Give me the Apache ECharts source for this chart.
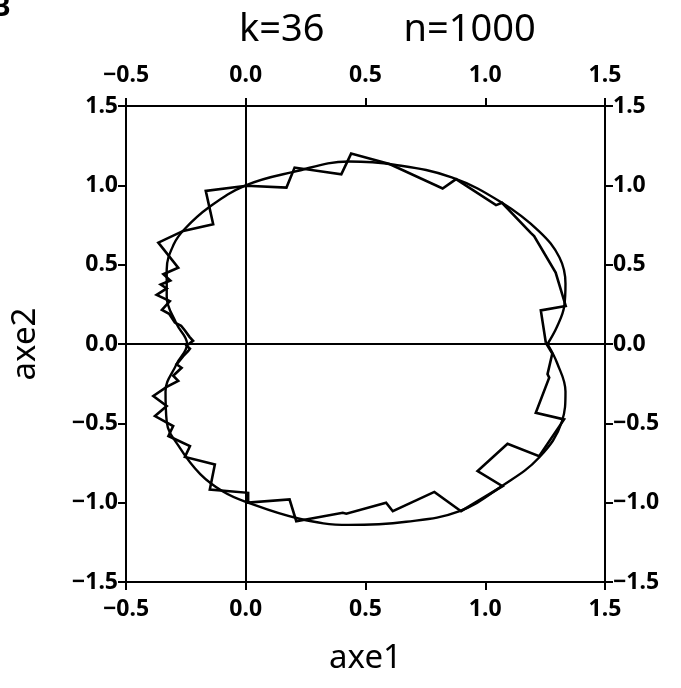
<!DOCTYPE html>
<html>
<head>
<meta charset="utf-8">
<script src="https://cdn.jsdelivr.net/npm/echarts@6/dist/echarts.min.js"></script>
<style>
html,body{margin:0;padding:0;background:#fff;}
#chart{width:681px;height:688px;}
</style>
</head>
<body>
<div id="chart"></div>
<script>
// ---- data ----
const titleText = 'k=36        n=1000';
const xName = 'axe1';
const yName = 'axe2';
const xTicks = [-0.5, 0.0, 0.5, 1.0, 1.5];
const yTicks = [-1.5, -1.0, -0.5, 0.0, 0.5, 1.0, 1.5];

// smooth reference curve (closed)
const curvePoints = [
  [1.26, 0.00], [1.30, 0.11], [1.33, 0.24], [1.335, 0.38], [1.31, 0.545],
  [1.225, 0.71], [1.07, 0.89], [0.86, 1.05], [0.62, 1.13], [0.43, 1.15],
  [0.20, 1.085], [0.00, 1.00], [-0.155, 0.86], [-0.255, 0.725], [-0.30, 0.63],
  [-0.33, 0.47], [-0.33, 0.30], [-0.29, 0.13], [-0.245, 0.00], [-0.29, -0.13],
  [-0.335, -0.30], [-0.33, -0.49], [-0.275, -0.655], [-0.19, -0.82], [-0.095, -0.93],
  [0.00, -0.995], [0.22, -1.10], [0.43, -1.14], [0.67, -1.12], [0.89, -1.055],
  [1.07, -0.895], [1.225, -0.715], [1.32, -0.49], [1.335, -0.30], [1.30, -0.12],
  [1.26, 0.00]
];

// jagged polygon (closed)
const walkPoints = [
  [1.253, 0.008], [1.232, 0.212], [1.336, 0.24], [1.294, 0.45], [1.204, 0.68],
  [1.19, 0.70], [1.07, 0.89], [1.045, 0.875], [0.878, 1.039], [0.822, 0.98],
  [0.60, 1.134], [0.44, 1.20], [0.399, 1.07], [0.204, 1.112], [0.17, 0.986],
  [0.003, 0.997], [-0.167, 0.965], [-0.136, 0.755], [-0.261, 0.713], [-0.365, 0.639],
  [-0.282, 0.481], [-0.344, 0.44], [-0.315, 0.40], [-0.355, 0.375], [-0.33, 0.35],
  [-0.372, 0.31], [-0.317, 0.27], [-0.35, 0.215], [-0.32, 0.19], [-0.296, 0.135],
  [-0.27, 0.115], [-0.254, 0.085], [-0.235, 0.045], [-0.22, 0.02], [-0.247, -0.01],
  [-0.233, -0.03], [-0.24, -0.044], [-0.261, -0.076], [-0.289, -0.128], [-0.268, -0.15],
  [-0.303, -0.20], [-0.282, -0.233], [-0.33, -0.27], [-0.386, -0.328], [-0.33, -0.391],
  [-0.379, -0.454], [-0.303, -0.517], [-0.323, -0.58], [-0.233, -0.644], [-0.254, -0.712],
  [-0.129, -0.759], [-0.15, -0.917], [0.01, -0.938], [0.01, -1.0], [0.183, -0.98],
  [0.211, -1.117], [0.405, -1.064], [0.42, -1.07], [0.586, -1.0], [0.614, -1.054],
  [0.7875, -0.932], [0.899, -1.054], [1.072, -0.896], [0.968, -0.801], [1.093, -0.629],
  [1.225, -0.707], [1.329, -0.475], [1.211, -0.433], [1.267, -0.212], [1.26, -0.19],
  [1.28, -0.06], [1.253, 0.008]
];

// ---- chart ----
const FONT = '"Noto Sans", "DejaVu Sans", sans-serif';
const fmt = v => (v < 0 ? '\u2212' : '') + Math.abs(v).toFixed(1);
const xMin = xTicks[0], xMax = xTicks[xTicks.length - 1];
const yMin = yTicks[0], yMax = yTicks[yTicks.length - 1];

function axisBase(extra, margin) {
  return Object.assign({
    type: 'value',
    splitLine: { show: false },
    axisLine: { show: true, onZero: false, lineStyle: { color: '#000', width: 2 } },
    axisTick: { show: true, inside: false, length: 8, lineStyle: { color: '#000', width: 2 } },
    axisLabel: { color: '#000', fontSize: 23, fontWeight: 'bold', fontFamily: FONT, formatter: fmt, margin: margin }
  }, extra);
}

const chart = echarts.init(document.getElementById('chart'), null, { renderer: 'canvas' });
chart.setOption({
  backgroundColor: '#fff',
  animation: false,
  title: {
    text: titleText, left: 234, top: 6,
    textStyle: { fontSize: 38, fontWeight: 'normal', color: '#000', fontFamily: FONT }
  },
  graphic: [{
    type: 'text', left: -8, top: -6,
    style: { text: 'B', fontSize: 28, fontWeight: 'bold', fill: '#000', fontFamily: FONT }
  }],
  grid: { left: 126, right: 76, top: 106, bottom: 106 },
  xAxis: [
    axisBase({ min: xMin, max: xMax, interval: 0.5, position: 'bottom',
      name: xName, nameLocation: 'middle', nameGap: 60,
      nameTextStyle: { fontSize: 33, color: '#000', fontFamily: FONT } }, 16),
    axisBase({ min: xMin, max: xMax, interval: 0.5, position: 'top' }, 19)
  ],
  yAxis: [
    axisBase({ min: yMin, max: yMax, interval: 0.5, position: 'left',
      name: yName, nameLocation: 'middle', nameGap: 84, nameRotate: 90,
      nameTextStyle: { fontSize: 33, color: '#000', fontFamily: FONT } }, 8),
    axisBase({ min: yMin, max: yMax, interval: 0.5, position: 'right' }, 8)
  ],
  series: [
    {
      type: 'line', xAxisIndex: 0, yAxisIndex: 0,
      data: curvePoints, smooth: 0.4, symbol: 'none',
      lineStyle: { color: '#000', width: 2.4 }, z: 3,
      markLine: {
        silent: true, symbol: 'none', label: { show: false },
        lineStyle: { color: '#000', width: 2, type: 'solid' },
        data: [{ xAxis: 0 }, { yAxis: 0 }]
      }
    },
    {
      type: 'line', xAxisIndex: 0, yAxisIndex: 0,
      data: walkPoints, smooth: false, symbol: 'none',
      lineStyle: { color: '#000', width: 2.6, join: 'miter' }, z: 4
    }
  ]
});
</script>
</body>
</html>
